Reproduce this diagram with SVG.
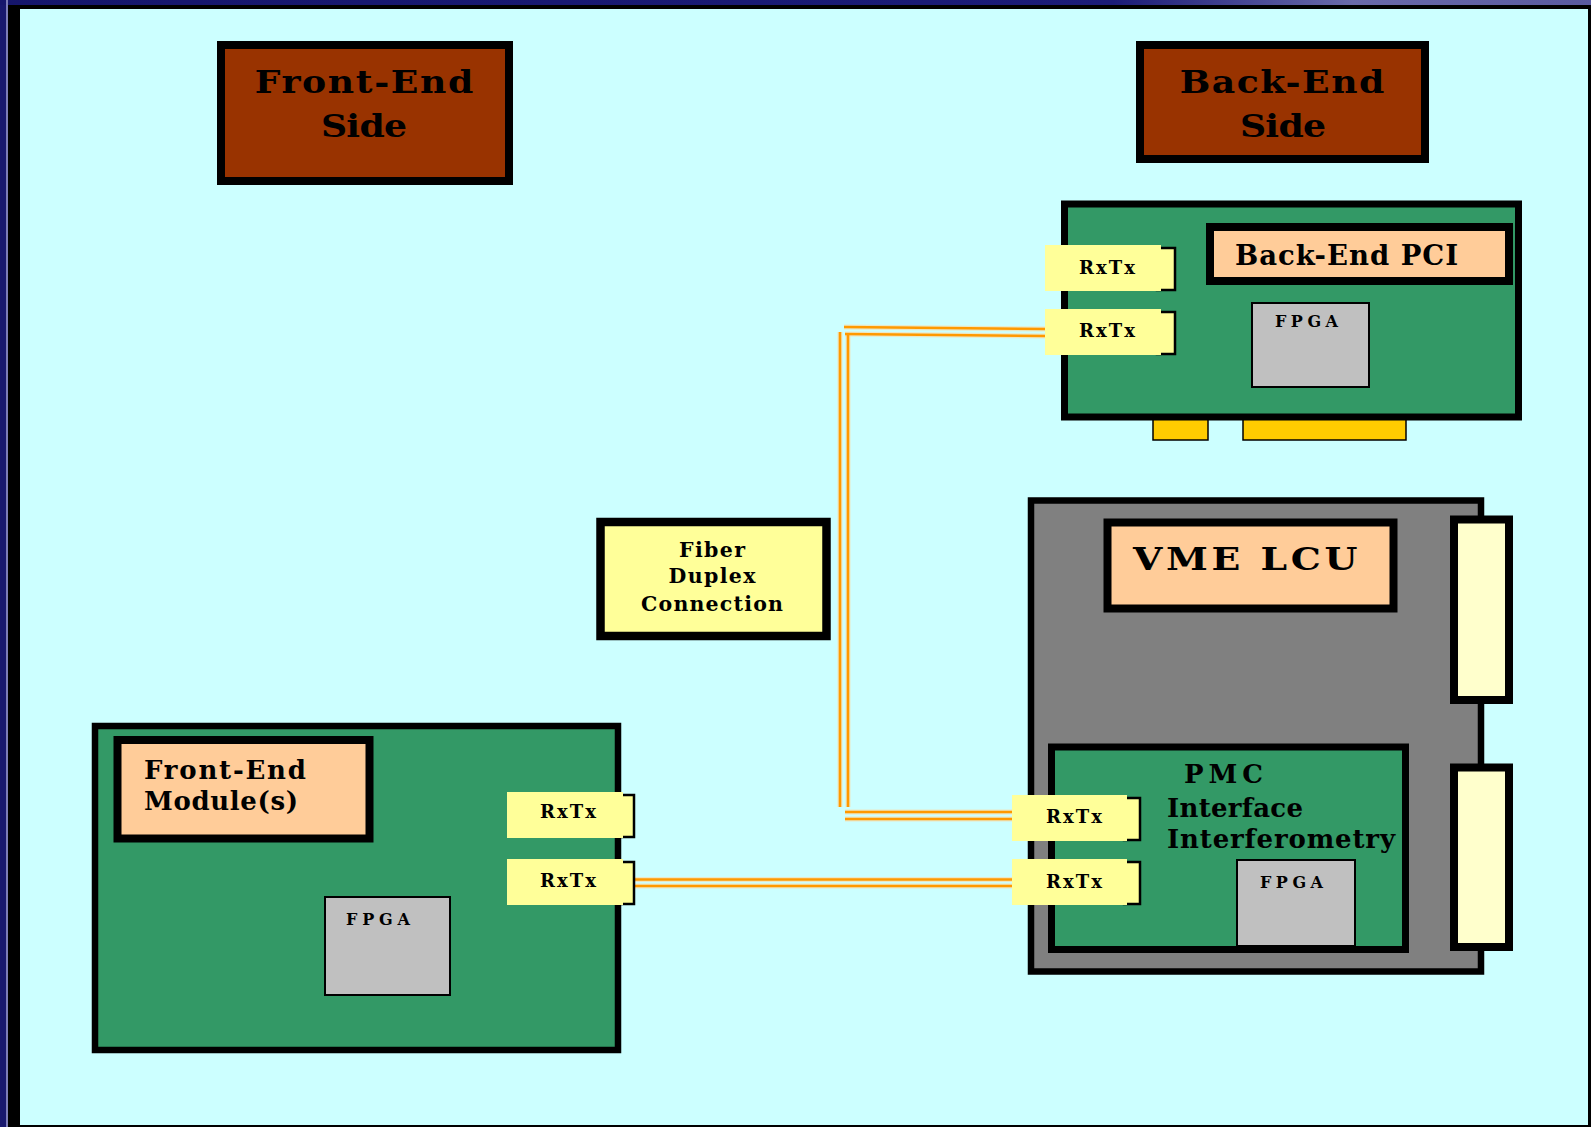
<svg xmlns="http://www.w3.org/2000/svg" width="1591" height="1127" viewBox="0 0 1591 1127">
  <defs>
    <linearGradient id="topGlow" x1="0" y1="0" x2="1" y2="0">
      <stop offset="0" stop-color="#16166c"/>
      <stop offset="0.7" stop-color="#1c1c78"/>
      <stop offset="0.85" stop-color="#6a6aaa"/>
      <stop offset="1" stop-color="#5a5aa0"/>
    </linearGradient>
    <style>
      .lbl { font-family: "DejaVu Serif", "Liberation Serif", serif; font-weight: bold; fill: #000; }
      .box { stroke: #000; }
      .title { fill: #993300; stroke: #000; stroke-width: 8; }
      .board { fill: #339966; stroke: #000; }
      .tag { fill: #ffcc99; stroke: #000; stroke-width: 8; }
      .chip { fill: #c0c0c0; stroke: #000; stroke-width: 2; }
      .port { fill: #ffff99; }
      .tab { fill: #ffff99; stroke: #000; stroke-width: 2.5; }
      .slot { fill: #ffcc00; stroke: #000; stroke-width: 1.5; }
      .jack { fill: #ffffcc; stroke: #000; stroke-width: 8; }
      .fiber { stroke: #ff9900; stroke-width: 2.6; fill: none; }
      .halo { stroke: #ffd9a0; stroke-width: 5; fill: none; opacity: 0.6; }
    </style>
  </defs>

  <!-- slide background and framed drawing area -->
  <rect x="0" y="0" width="1591" height="1127" fill="#18186e"/>
  <rect x="0" y="0" width="1591" height="5" fill="url(#topGlow)"/>
  <rect x="6.3" y="0" width="1.4" height="1127" fill="#a8a8d8"/>
  <rect x="8" y="5" width="1583" height="1122" fill="#000"/>
  <rect x="20" y="9" width="1568" height="1116" fill="#ccffff"/>

  <!-- fiber links -->
  <g id="connectors">
    <g id="link-fe-pmc">
      <line class="halo" x1="634" y1="879.5" x2="1012" y2="879.5"/>
      <line class="halo" x1="634" y1="886" x2="1012" y2="886"/>
      <line class="fiber" x1="634" y1="879.5" x2="1012" y2="879.5"/>
      <line class="fiber" x1="634" y1="886" x2="1012" y2="886"/>
    </g>
    <g id="link-pmc-pci">
      <line class="halo" x1="840" y1="332" x2="840" y2="807"/>
      <line class="halo" x1="848" y1="334" x2="848" y2="807"/>
      <line class="halo" x1="844" y1="327" x2="1045" y2="329"/>
      <line class="halo" x1="845" y1="334" x2="1045" y2="336"/>
      <line class="halo" x1="845" y1="812" x2="1012" y2="812"/>
      <line class="halo" x1="845" y1="819" x2="1012" y2="819"/>
      <line class="fiber" x1="840" y1="332" x2="840" y2="807"/>
      <line class="fiber" x1="848" y1="334" x2="848" y2="807"/>
      <line class="fiber" x1="844" y1="327" x2="1045" y2="329"/>
      <line class="fiber" x1="845" y1="334" x2="1045" y2="336"/>
      <line class="fiber" x1="845" y1="812" x2="1012" y2="812"/>
      <line class="fiber" x1="845" y1="819" x2="1012" y2="819"/>
    </g>
  </g>

  <!-- side headings (wide lettering) -->
  <g id="front-end-side">
    <rect class="title" x="221" y="45" width="288" height="136"/>
    <text class="lbl" transform="translate(364,93) scale(1.15,1)" font-size="31.5" text-anchor="middle" textLength="190" lengthAdjust="spacing">Front-End</text>
    <text class="lbl" transform="translate(364,137) scale(1.15,1)" font-size="31.5" text-anchor="middle" textLength="75" lengthAdjust="spacing">Side</text>
  </g>
  <g id="back-end-side">
    <rect class="title" x="1140" y="45" width="285" height="114"/>
    <text class="lbl" transform="translate(1282,93) scale(1.15,1)" font-size="31.5" text-anchor="middle" textLength="178" lengthAdjust="spacing">Back-End</text>
    <text class="lbl" transform="translate(1283,137) scale(1.15,1)" font-size="31.5" text-anchor="middle" textLength="75" lengthAdjust="spacing">Side</text>
  </g>

  <!-- back-end PCI card -->
  <g id="back-end-pci">
    <rect class="slot" x="1153" y="412" width="55" height="28"/>
    <rect class="slot" x="1243" y="412" width="163" height="28"/>
    <rect class="board" x="1064.5" y="204" width="454" height="213" stroke-width="7"/>
    <rect class="tag" x="1210" y="227" width="299" height="54"/>
    <text class="lbl" x="1235" y="265" font-size="27.5" textLength="223" lengthAdjust="spacing">Back-End PCI</text>
    <g id="pci-fpga">
      <rect class="chip" x="1252" y="303" width="117" height="84"/>
      <text class="lbl" x="1275" y="327" font-size="16" textLength="63" lengthAdjust="spacing">FPGA</text>
    </g>
    <g id="pci-rxtx-1" transform="translate(1045,245)">
      <path class="tab" d="M112 3 H130 V45 H112 Z"/>
      <rect class="port" x="0" y="0" width="116" height="46"/>
      <text class="lbl" x="62" y="29" font-size="18" text-anchor="middle" textLength="56" lengthAdjust="spacing">RxTx</text>
    </g>
    <g id="pci-rxtx-2" transform="translate(1045,309)">
      <path class="tab" d="M112 3 H130 V45 H112 Z"/>
      <rect class="port" x="0" y="0" width="116" height="46"/>
      <text class="lbl" x="62" y="28" font-size="18" text-anchor="middle" textLength="56" lengthAdjust="spacing">RxTx</text>
    </g>
  </g>

  <!-- fiber caption -->
  <g id="fiber-duplex">
    <rect class="box" x="600.5" y="522" width="226" height="114" fill="#ffff99" stroke-width="8.5"/>
    <text class="lbl" x="712" y="557" font-size="20.5" text-anchor="middle" textLength="66" lengthAdjust="spacing">Fiber</text>
    <text class="lbl" x="712" y="583" font-size="20.5" text-anchor="middle" textLength="87" lengthAdjust="spacing">Duplex</text>
    <text class="lbl" x="712" y="611" font-size="20.5" text-anchor="middle" textLength="142" lengthAdjust="spacing">Connection</text>
  </g>

  <!-- VME crate unit with PMC mezzanine -->
  <g id="vme-lcu">
    <rect class="box" x="1031" y="500.5" width="450" height="471" fill="#808080" stroke-width="6.5"/>
    <rect class="tag" x="1107.5" y="522.5" width="286" height="86" stroke-width="8.5"/>
    <text class="lbl" transform="translate(1133,570) scale(1.2,1)" font-size="31.5" textLength="187" lengthAdjust="spacing">VME LCU</text>
    <rect class="jack" x="1454" y="519.5" width="55" height="180.5"/>
    <rect class="jack" x="1454" y="767.5" width="55" height="179.5"/>
  </g>
  <g id="pmc-interface">
    <rect class="board" x="1051.5" y="747" width="354" height="202.5" stroke-width="7"/>
    <text class="lbl" x="1184" y="783" font-size="26" textLength="79" lengthAdjust="spacing">PMC</text>
    <text class="lbl" x="1167" y="817" font-size="26" textLength="136" lengthAdjust="spacing">Interface</text>
    <text class="lbl" x="1167" y="848" font-size="26" textLength="228" lengthAdjust="spacing">Interferometry</text>
    <g id="pmc-fpga">
      <rect class="chip" x="1237" y="860" width="118" height="86"/>
      <text class="lbl" x="1260" y="888" font-size="16" textLength="63" lengthAdjust="spacing">FPGA</text>
    </g>
    <g id="pmc-rxtx-1" transform="translate(1012,795)">
      <path class="tab" d="M112 3 H128 V45 H112 Z"/>
      <rect class="port" x="0" y="0" width="115" height="46"/>
      <text class="lbl" x="62" y="28" font-size="18" text-anchor="middle" textLength="56" lengthAdjust="spacing">RxTx</text>
    </g>
    <g id="pmc-rxtx-2" transform="translate(1012,859)">
      <path class="tab" d="M112 3 H128 V45 H112 Z"/>
      <rect class="port" x="0" y="0" width="115" height="46"/>
      <text class="lbl" x="62" y="29" font-size="18" text-anchor="middle" textLength="56" lengthAdjust="spacing">RxTx</text>
    </g>
  </g>

  <!-- front-end module board -->
  <g id="front-end-module">
    <rect class="board" x="95" y="726" width="523" height="324" stroke-width="6.5"/>
    <rect class="tag" x="117.5" y="740" width="252" height="98.5"/>
    <text class="lbl" x="144" y="779" font-size="26" textLength="162" lengthAdjust="spacing">Front-End</text>
    <text class="lbl" x="144" y="810" font-size="26" textLength="154" lengthAdjust="spacing">Module(s)</text>
    <g id="fe-fpga">
      <rect class="chip" x="325" y="897" width="125" height="98"/>
      <text class="lbl" x="346" y="925" font-size="16" textLength="64" lengthAdjust="spacing">FPGA</text>
    </g>
    <g id="fe-rxtx-1" transform="translate(507,792)">
      <path class="tab" d="M112 3 H127 V45 H112 Z"/>
      <rect class="port" x="0" y="0" width="116" height="46"/>
      <text class="lbl" x="61" y="26" font-size="18" text-anchor="middle" textLength="56" lengthAdjust="spacing">RxTx</text>
    </g>
    <g id="fe-rxtx-2" transform="translate(507,859)">
      <path class="tab" d="M112 3 H127 V45 H112 Z"/>
      <rect class="port" x="0" y="0" width="116" height="46"/>
      <text class="lbl" x="61" y="28" font-size="18" text-anchor="middle" textLength="56" lengthAdjust="spacing">RxTx</text>
    </g>
  </g>
</svg>
